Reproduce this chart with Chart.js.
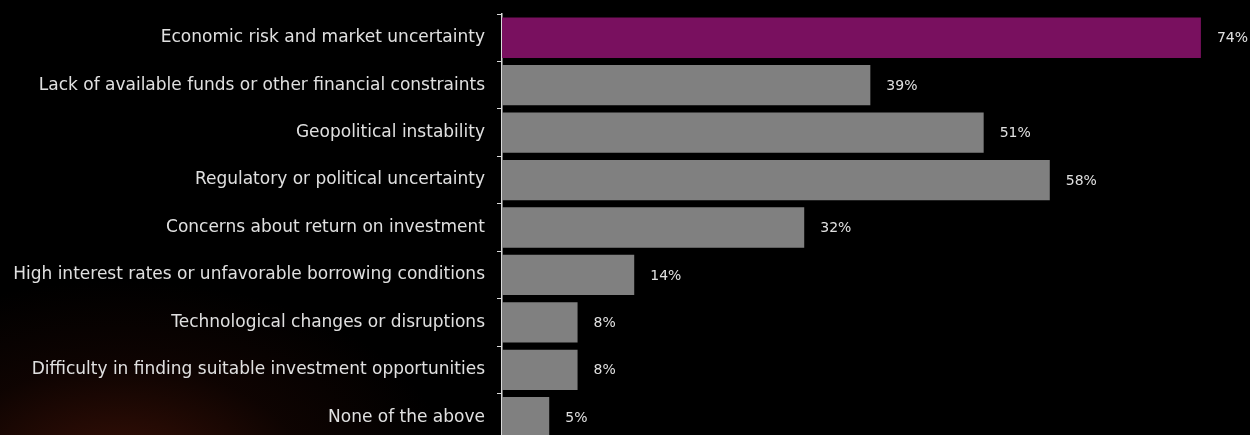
<!DOCTYPE html>
<html>
<head>
<meta charset="utf-8">
<script src="https://cdn.jsdelivr.net/npm/chart.js@4"></script>
<style>
  html, body { margin: 0; padding: 0; width: 1250px; height: 435px; overflow: hidden; }
  body {
    background: #000;
    background-image: radial-gradient(ellipse 330px 190px at 120px 470px, rgba(70, 20, 8, 0.8), rgba(35, 9, 4, 0.4) 55%, rgba(0, 0, 0, 0) 100%);
  }
  #wrap { position: relative; width: 1250px; height: 441px; }
</style>
</head>
<body>
<div id="wrap"><canvas id="bars"></canvas></div>
<script>
var categories = [
    "Economic risk and market uncertainty",
    "Lack of available funds or other financial constraints",
    "Geopolitical instability",
    "Regulatory or political uncertainty",
    "Concerns about return on investment",
    "High interest rates or unfavorable borrowing conditions",
    "Technological changes or disruptions",
    "Difficulty in finding suitable investment opportunities",
    "None of the above",
];
var shares = [74, 39, 51, 58, 32, 14, 8, 8, 5];
var highlighted = [true, false, false, false, false, false, false, false, false];

var barColors = highlighted.map((h) => (h ? "#79105f" : "#808080"));
var fontFamily = "'DejaVu Sans'";

// percentage text just past the end of each bar
var valueLabels = {
    id: "valueLabels",
    afterDatasetsDraw(chart) {
        var c = chart.ctx;
        var meta = chart.getDatasetMeta(0);
        c.save();
        c.fillStyle = "#e0e0e0";
        c.font = "14px " + fontFamily;
        c.textAlign = "left";
        c.textBaseline = "middle";
        meta.data.forEach((bar, i) => {
            c.fillText(shares[i] + "%", bar.x + 16, bar.y + 1);
        });
        c.restore();
    },
};

var ctx = document.getElementById("bars").getContext("2d");
var myChart = new Chart(ctx, {
    type: "bar",
    data: {
        labels: categories,
        datasets: [
            {
                label: "Share",
                data: shares,
                backgroundColor: barColors,
                borderWidth: 0,
                categoryPercentage: 1,
                barPercentage: 0.85,
            },
        ],
    },
    options: {
        indexAxis: "y",
        responsive: true,
        maintainAspectRatio: false,
        animation: false,
        layout: { padding: { top: 14, bottom: 0, left: 0, right: 0 } },
        plugins: {
            legend: { display: false },
            tooltip: { enabled: false },
        },
        scales: {
            x: {
                display: false,
                min: 0,
                max: 79.2,
            },
            y: {
                offset: true,
                border: { display: true, color: "#d9d9d9", width: 1.5 },
                grid: {
                    offset: true,
                    drawOnChartArea: false,
                    drawTicks: true,
                    tickLength: 5,
                    color: "#d9d9d9",
                },
                ticks: {
                    color: "#e0e0e0",
                    padding: 12,
                    font: { family: fontFamily, size: 17 },
                },
                afterFit(axis) {
                    axis.width = 502;
                    axis.paddingTop = 0;
                    axis.paddingBottom = 0;
                },
            },
        },
    },
    plugins: [valueLabels],
});
</script>
</body>
</html>
